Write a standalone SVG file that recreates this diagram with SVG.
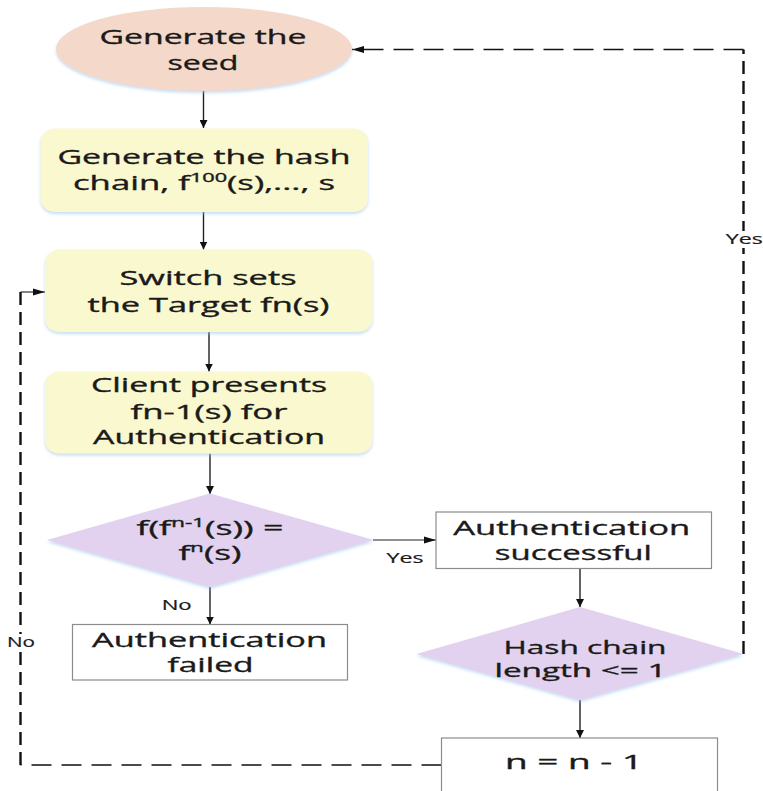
<svg xmlns="http://www.w3.org/2000/svg" width="763" height="791" viewBox="0 0 763 791">
  <style>
    text { font-family: "Open Sans", "DejaVu Sans", sans-serif; fill: #1a1a1a; text-anchor: middle; }
    .t { font-size: 20px; stroke: #1a1a1a; stroke-width: 0.35; }
    .tight { font-size: 18.5px; }
    .sup { font-size: 12.5px; }
    .lbl { font-size: 14px; stroke: #1a1a1a; stroke-width: 0.2; }
    .seed { fill: #f4d9cb; }
    .step { fill: #faf8cf; }
    .dec { fill: #e2d2ef; }
    .plain { fill: #ffffff; stroke: #8c8c8c; stroke-width: 1.2; }
    .flow { stroke: #222; fill: none; }
    .v { stroke-width: 1.4; }
    .h { stroke-width: 1.1; }
    .loopv { stroke: #111; stroke-width: 2.4; fill: none; stroke-dasharray: 13 7; }
    .looph { stroke: #111; stroke-width: 1.6; fill: none; stroke-dasharray: 20 10; }
  </style>
  <defs>
    <filter id="glow" x="-10%" y="-10%" width="120%" height="130%">
      <feDropShadow dx="0" dy="2" stdDeviation="1.6" flood-color="#9cc2e8" flood-opacity="0.55"/>
    </filter>
    <marker id="arrV" viewBox="0 0 8 8" refX="8" refY="4" markerWidth="8" markerHeight="8" markerUnits="userSpaceOnUse" orient="auto">
      <path d="M0,0 L8,4 L0,8 Z" fill="#111"/>
    </marker>
    <marker id="arrH" viewBox="0 0 12 8" refX="12" refY="4" markerWidth="12" markerHeight="8" markerUnits="userSpaceOnUse" orient="auto">
      <path d="M0,0.5 L12,4 L0,7.5 Z" fill="#111"/>
    </marker>
  </defs>

  <rect width="763" height="791" fill="#ffffff"/>

  <!-- connectors -->
  <g id="connectors">
    <line class="flow v" x1="203.5" y1="91" x2="203.5" y2="128" marker-end="url(#arrV)"/>
    <line class="flow v" x1="203.5" y1="212" x2="203.5" y2="249.5" marker-end="url(#arrV)"/>
    <line class="flow v" x1="209" y1="332" x2="209" y2="371.5" marker-end="url(#arrV)"/>
    <line class="flow v" x1="210" y1="453.5" x2="210" y2="494" marker-end="url(#arrV)"/>
    <line class="flow h" x1="373" y1="540" x2="436" y2="540" marker-end="url(#arrH)"/>
    <line class="flow v" x1="210" y1="587" x2="210" y2="624.5" marker-end="url(#arrV)"/>
    <line class="flow v" x1="580" y1="568.5" x2="580" y2="607" marker-end="url(#arrV)"/>
    <line class="flow v" x1="580" y1="700" x2="580" y2="738" marker-end="url(#arrV)"/>

    <!-- "Yes" loop back to the seed -->
    <line class="loopv" x1="743.5" y1="654" x2="743.5" y2="49.5"/>
    <line class="looph" x1="743.5" y1="49.5" x2="352" y2="49.5" marker-end="url(#arrH)"/>
    <rect x="726" y="231" width="37" height="17" fill="#fff"/>
    <text class="lbl" x="744.3" y="244" textLength="37" lengthAdjust="spacingAndGlyphs">Yes</text>

    <!-- "No" loop back to the target switch -->
    <line class="looph" x1="441.5" y1="765" x2="20.5" y2="765"/>
    <line class="loopv" x1="20.5" y1="765" x2="20.5" y2="292"/>
    <line class="flow h" x1="20.5" y1="292" x2="45" y2="292" stroke-width="1.6" marker-end="url(#arrH)"/>
    <rect x="5" y="634" width="32" height="17" fill="#fff"/>
    <text class="lbl" x="21" y="647" textLength="28" lengthAdjust="spacingAndGlyphs">No</text>

    <text class="lbl" x="405" y="563" textLength="37" lengthAdjust="spacingAndGlyphs">Yes</text>
    <text class="lbl" x="176.7" y="610" textLength="30" lengthAdjust="spacingAndGlyphs">No</text>
  </g>

  <g id="seed">
    <ellipse class="seed" cx="204" cy="49" rx="148" ry="42" filter="url(#glow)"/>
    <text class="t" x="203" y="43.5" textLength="207" lengthAdjust="spacingAndGlyphs">Generate the</text>
    <text class="t" x="203" y="69.5" textLength="71" lengthAdjust="spacingAndGlyphs">seed</text>
  </g>

  <g id="hash-chain">
    <rect class="step" x="40.5" y="128.5" width="327.5" height="83.5" rx="15" ry="13" filter="url(#glow)"/>
    <text class="t" x="204" y="163.5" textLength="293" lengthAdjust="spacingAndGlyphs">Generate the hash</text>
    <text class="t" x="204" y="190" textLength="262" lengthAdjust="spacingAndGlyphs">chain, f<tspan class="sup" dy="-8">100</tspan><tspan dy="8">(s),..., s</tspan></text>
  </g>

  <g id="set-target">
    <rect class="step" x="45" y="249.5" width="327.5" height="82.5" rx="15" ry="13" filter="url(#glow)"/>
    <text class="t" x="208" y="285" textLength="177" lengthAdjust="spacingAndGlyphs">Switch sets</text>
    <text class="t" x="208.5" y="311.5" textLength="242" lengthAdjust="spacingAndGlyphs">the Target fn(s)</text>
  </g>

  <g id="client-presents">
    <rect class="step" x="45" y="371.5" width="327.5" height="82" rx="15" ry="13" filter="url(#glow)"/>
    <text class="t" x="209" y="391.5" textLength="236" lengthAdjust="spacingAndGlyphs">Client presents</text>
    <text class="t" x="209" y="419" textLength="157" lengthAdjust="spacingAndGlyphs">fn-1(s) for</text>
    <text class="t" x="209" y="444" textLength="232" lengthAdjust="spacingAndGlyphs">Authentication</text>
  </g>

  <g id="verify">
    <polygon class="dec" points="210,493.5 373.5,540 210,587 47,540" filter="url(#glow)"/>
    <text class="t" x="210" y="535" textLength="147" lengthAdjust="spacingAndGlyphs">f(f<tspan class="sup" dy="-8">n-1</tspan><tspan dy="8">(s)) =</tspan></text>
    <text class="t" x="210" y="560" textLength="63" lengthAdjust="spacingAndGlyphs">f<tspan class="sup" dy="-8">n</tspan><tspan dy="8">(s)</tspan></text>
  </g>

  <g id="auth-failed">
    <rect class="plain" x="72.5" y="624.5" width="275" height="55.5"/>
    <text class="t" x="209.5" y="646.5" textLength="235" lengthAdjust="spacingAndGlyphs">Authentication</text>
    <text class="t" x="210.5" y="671.5" textLength="86" lengthAdjust="spacingAndGlyphs">failed</text>
  </g>

  <g id="auth-success">
    <rect class="plain" x="436" y="512" width="275.5" height="56.5"/>
    <text class="t" x="571.7" y="535" textLength="237" lengthAdjust="spacingAndGlyphs">Authentication</text>
    <text class="t" x="573.3" y="560" textLength="157" lengthAdjust="spacingAndGlyphs">successful</text>
  </g>

  <g id="chain-length">
    <polygon class="dec" points="580,607 743.5,654 580,700 416.5,654" filter="url(#glow)"/>
    <text class="t tight" x="585" y="653.5" textLength="163" lengthAdjust="spacingAndGlyphs">Hash chain</text>
    <text class="t tight" x="580.5" y="677" textLength="172" lengthAdjust="spacingAndGlyphs">length &lt;= 1</text>
  </g>

  <g id="decrement">
    <rect class="plain" x="441.5" y="738" width="276" height="70"/>
    <text class="t" x="574" y="769" textLength="138" lengthAdjust="spacingAndGlyphs">n = n - 1</text>
  </g>
</svg>
